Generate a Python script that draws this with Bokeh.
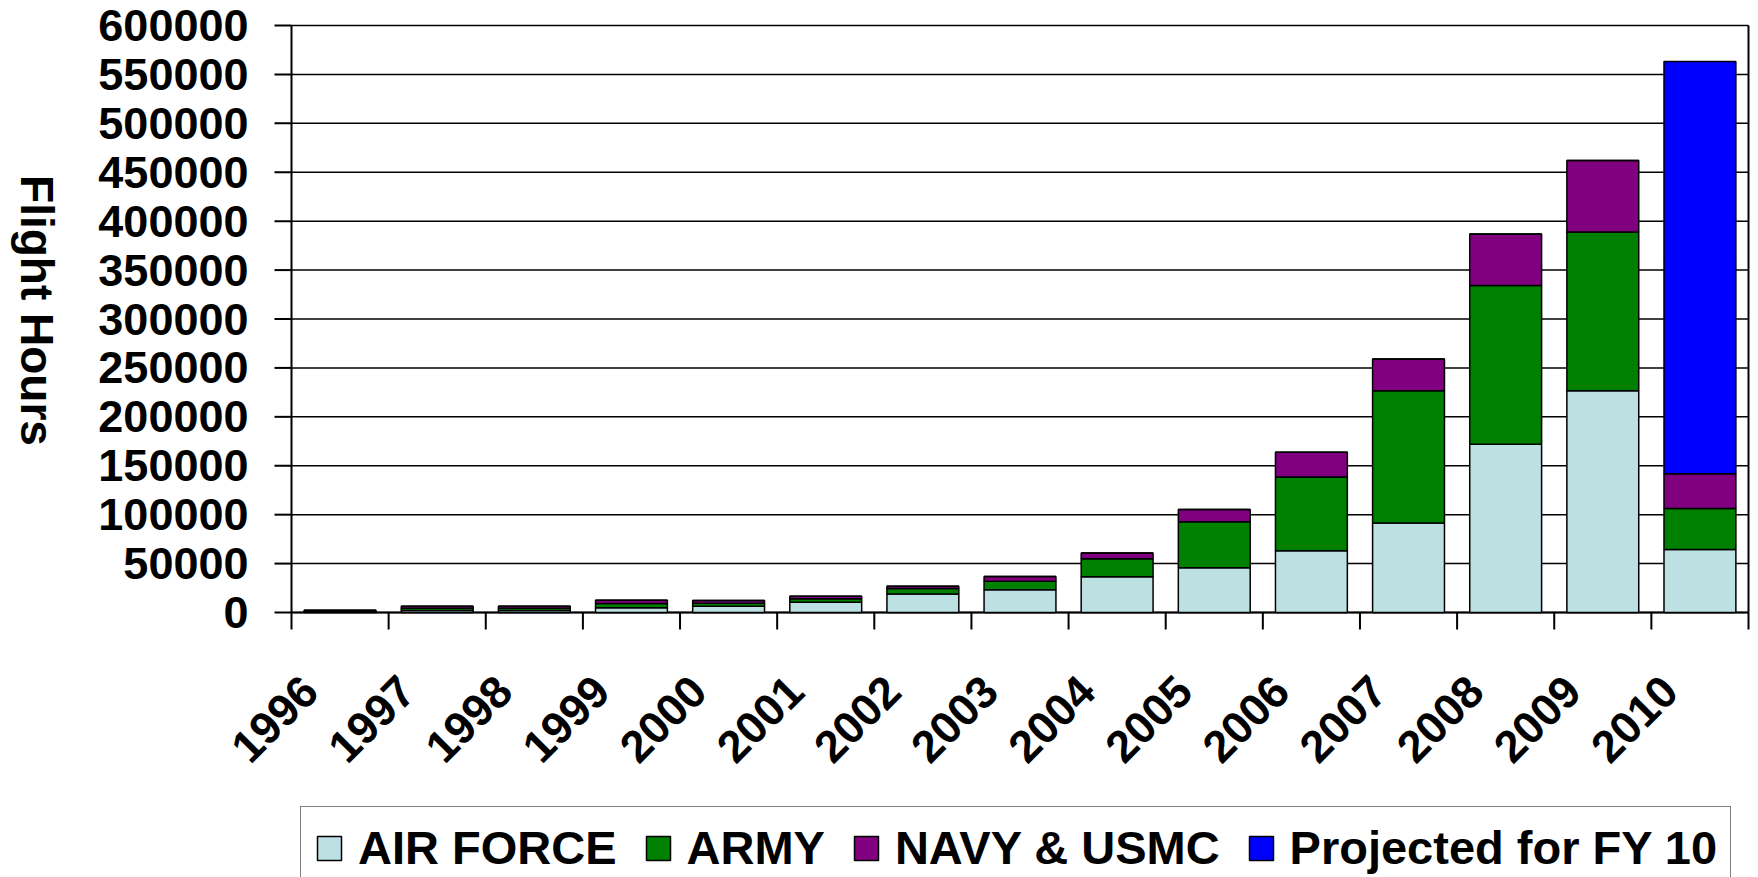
import math
from bokeh.plotting import figure
from bokeh.models import (Range1d, Legend, LegendItem, ColumnDataSource)
from bokeh.core.properties import value
from bokeh.embed import file_html
from bokeh.resources import INLINE

# ---- data ----
years = ["1996", "1997", "1998", "1999", "2000", "2001", "2002", "2003",
         "2004", "2005", "2006", "2007", "2008", "2009", "2010"]
air_force = [800, 2000, 2000, 4800, 6400, 10500, 19000, 23200,
             36600, 45800, 63000, 91600, 172000, 226600, 64500]
army = [800, 2300, 2300, 4300, 3000, 3500, 5500, 8800,
        18400, 46900, 75500, 135000, 162300, 162200, 41700]
navy = [800, 2000, 2000, 3300, 2900, 2600, 2300, 4700,
        5700, 12600, 25200, 32600, 52500, 73100, 35500]
projected = [0, 0, 0, 0, 0, 0, 0, 0, 0, 0, 0, 0, 0, 0, 421500]

series_keys = ["air_force", "army", "navy", "projected"]
series_labels = ["AIR FORCE", "ARMY", "NAVY & USMC", "Projected for FY 10"]
series_colors = ["#BDE0E3", "#008000", "#800080", "#0000FF"]

y_ticks = list(range(0, 600001, 50000))
y_tick_labels = [str(v) for v in y_ticks]
y_title = "Flight Hours"

FONT = "Liberation Sans"

# ---- layout constants (pixels) ----
W, H = 1758, 877
PLOT_L, PLOT_R = 291, 1748      # pixel columns of the first / last category edge
ZERO_Y, TOP_Y = 612, 25         # pixel rows of value 0 / 600000
Y_MAX = 600000
TICK = 17

n = len(years)
x_centers = [i + 0.5 for i in range(n)]
boundaries = [float(i) for i in range(n + 1)]
label_shift = -0.31
label_pos = [c + label_shift for c in x_centers]

px_per_x = (PLOT_R - PLOT_L) / n
units_per_px = Y_MAX / (ZERO_Y - TOP_Y)
tick_x = TICK / px_per_x
tick_y = TICK * units_per_px

p = figure(width=W, height=H,
           x_range=Range1d(-PLOT_L / px_per_x, n + (W - PLOT_R) / px_per_x),
           y_range=Range1d(-(H - ZERO_Y) * units_per_px, Y_MAX + TOP_Y * units_per_px),
           x_axis_type=None, y_axis_type=None,
           output_backend="svg", toolbar_location=None,
           min_border_left=0, min_border_right=0,
           min_border_top=0, min_border_bottom=0)
p.background_fill_color = "white"
p.border_fill_color = "white"
p.outline_line_color = None

source = ColumnDataSource(dict(x=x_centers, air_force=air_force, army=army,
                               navy=navy, projected=projected))

# horizontal gridlines (0 line doubles as the category axis)
p.segment(x0=[0.0] * len(y_ticks), y0=y_ticks, x1=[float(n)] * len(y_ticks), y1=y_ticks,
          line_color="black", line_width=1.5)
p.segment(x0=[0.0], y0=[0.0], x1=[float(n)], y1=[0.0], line_color="black", line_width=2)

# value-axis ticks and spine
p.segment(x0=[-tick_x] * len(y_ticks), y0=y_ticks, x1=[0.0] * len(y_ticks), y1=y_ticks,
          line_color="black", line_width=2)
p.segment(x0=[0.0], y0=[-tick_y], x1=[0.0], y1=[float(Y_MAX)],
          line_color="black", line_width=2)

# stacked bars
rs = p.vbar_stack(series_keys, x="x", width=0.74, source=source,
                  fill_color=series_colors, line_color="black", line_width=1.5)

# category boundary ticks and the right border
p.segment(x0=boundaries[1:], y0=[-tick_y] * n, x1=boundaries[1:],
          y1=[0.0] * (n - 1) + [float(Y_MAX)],
          line_color="black", line_width=2)

# value labels
p.text(x=[0.0] * len(y_ticks), y=y_ticks, text=y_tick_labels, x_offset=-(TICK + 26),
       text_align="right", text_baseline="middle",
       text_font=value(FONT), text_font_style="bold",
       text_font_size="45px", text_color="black")

# year labels, rotated, under the zero line
p.text(x=label_pos, y=[0.0] * n, text=years, angle=math.pi / 4,
       text_align="right", text_baseline="middle", y_offset=71,
       text_font=value(FONT), text_font_style="bold",
       text_font_size="45px", text_color="black")

# axis title, reading top to bottom
p.text(x=[(36 - PLOT_L) / px_per_x], y=[(ZERO_Y - 310) * units_per_px], text=[y_title],
       angle=-math.pi / 2, text_align="center", text_baseline="middle",
       text_font=value(FONT), text_font_style="bold",
       text_font_size="46px", text_color="black")

# legend at the bottom, running off the lower edge like the original
legend = Legend(items=[LegendItem(label=l, renderers=[r]) for l, r in zip(series_labels, rs)],
                orientation="horizontal", location=(300, -12),
                label_text_font=FONT, label_text_font_style="bold",
                label_text_font_size="47px", label_text_color="black",
                glyph_width=30, glyph_height=30, label_standoff=14,
                spacing=26, padding=13, margin=0,
                border_line_color="black", border_line_width=1.5,
                background_fill_color="white", background_fill_alpha=1.0)
p.add_layout(legend)

open("out.html", "w").write(file_html(p, INLINE))
